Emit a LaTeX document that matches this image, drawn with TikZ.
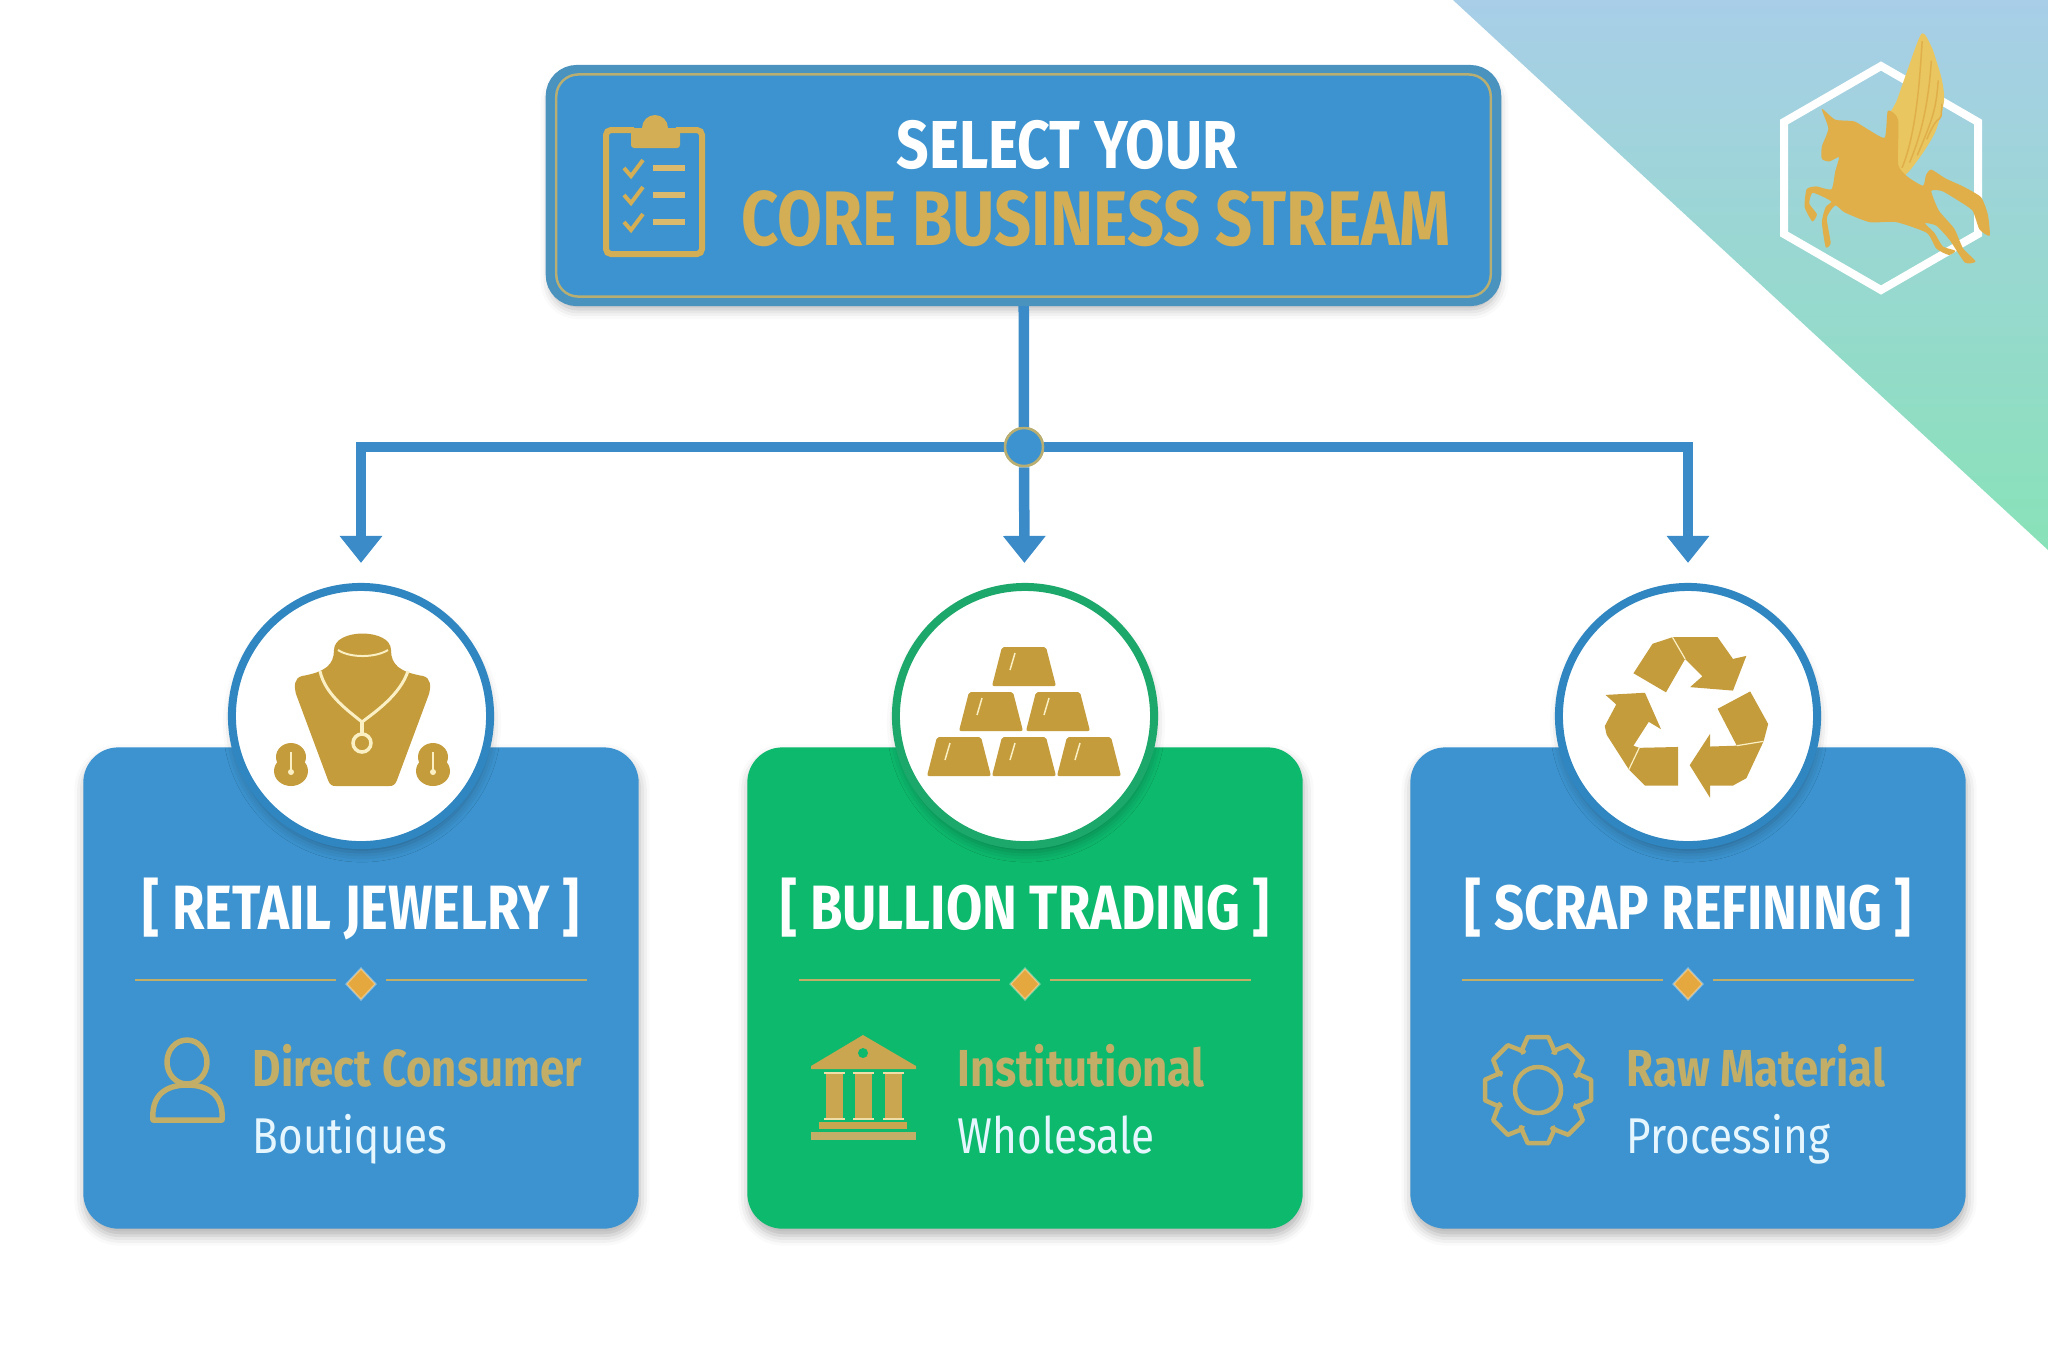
\documentclass[tikz,border=0pt]{standalone}
\usepackage{fontspec}
\setmainfont{Fira Sans}[FakeStretch=0.84]
\usetikzlibrary{arrows.meta,shapes.geometric,shadows.blur}
\definecolor{cardblue}{HTML}{3C93CF}
\definecolor{cardgreen}{HTML}{0DB96D}
\definecolor{ringblue}{HTML}{2F86C0}
\definecolor{ringgreen}{HTML}{1DA86B}
\definecolor{linkblue}{HTML}{3A8BC8}
\definecolor{edgeblue}{HTML}{4A93BE}
\definecolor{gold}{HTML}{C49C3C}
\definecolor{paleline}{HTML}{B9AE72}
\definecolor{goldtext}{HTML}{D4AE55}
\definecolor{softgold}{HTML}{C2AE66}
\definecolor{cream}{HTML}{FBEFC4}
\definecolor{horse}{HTML}{E0AF4A}
\definecolor{wing}{HTML}{E9C660}
\definecolor{subtext}{HTML}{E6F6FF}
\definecolor{skytop}{HTML}{A8CEE8}
\definecolor{skybottom}{HTML}{88E2B8}
\begin{document}
\begin{tikzpicture}[x=0.01cm,y=-0.01cm,
    softshadow/.style={blur shadow={shadow xshift=0.01cm,shadow yshift=-0.07cm,shadow blur radius=0.1cm,shadow opacity=30}},
    titlebox/.style={rectangle,rounded corners=0.27cm,draw=edgeblue,fill=cardblue,line width=0.08cm,
      minimum width=9.47cm,minimum height=2.33cm,softshadow},
    titlein/.style={rectangle,rounded corners=0.22cm,draw=paleline,line width=0.025cm,
      minimum width=9.34cm,minimum height=2.22cm},
    link/.style={draw=linkblue,line width=0.105cm},
    linkarrow/.style={link,shorten >=0.2cm,-{Triangle[length=0.27cm,width=0.41cm]}},
    hubdot/.style={circle,fill=cardblue,draw=paleline,line width=0.025cm,minimum size=0.38cm,inner sep=0pt},
    card/.style={rectangle,rounded corners=0.35cm,minimum width=5.55cm,minimum height=4.81cm,softshadow},
    ring/.style={circle,fill=white,line width=0.08cm,minimum size=2.58cm,inner sep=0pt,softshadow},
    gem/.style={diamond,fill=horse!85!orange,draw=white,draw opacity=0.35,line width=0.02cm,minimum width=0.3cm,minimum height=0.32cm,inner sep=0pt},
    rule/.style={softgold,line width=0.025cm},
    head/.style={white,anchor=base,font=\fontsize{17.8}{20}\selectfont\bfseries},
    kind/.style={softgold,anchor=base west,inner sep=0pt,font=\fontsize{14.8}{17}\selectfont\bfseries},
    what/.style={subtext,anchor=base west,inner sep=0pt,font=\fontsize{14.3}{16}\selectfont},
    iconline/.style={draw=softgold,line width=0.055cm,line join=round}]
  \useasboundingbox (0,0) rectangle (2048,1365);
  % corner and logo
  \shade[top color=skytop,bottom color=skybottom] (1453,0) -- (2048,0) -- (2048,550) -- cycle;
  \draw[white,line width=0.08cm,line join=miter]
    (1881,66) -- (1978,122) -- (1978,234) -- (1881,290) -- (1784,234) -- (1784,122) -- cycle;
  \begin{scope}[shift={(1450,0)},xscale=0.3814,yscale=0.3571]
    \fill[wing] plot[smooth cycle,tension=0.45] coordinates {(1150,385) (1148,330) (1170,285) (1195,210)
      (1236,95) (1262,130) (1275,170) (1290,225) (1295,285) (1272,370) (1232,440) (1190,492) (1170,450)};
    \foreach \a/\b/\c/\d in {1185/470/1238/115,1205/455/1262/170,1225/435/1280/225,1250/390/1290/290} {
      \draw[horse,line width=0.015cm] (\a,\b) .. controls (\a+40,\b-100) and (\c-5,\d+80) .. (\c,\d);
    }
    \fill[horse] plot[smooth cycle,tension=0.35] coordinates {(975,305) (1010,335) (1060,340) (1100,365) (1140,385)
      (1148,310) (1175,335) (1175,460) (1200,495) (1240,520) (1248,490) (1262,475) (1300,500) (1345,522) (1392,552) (1410,600) (1415,660)
      (1388,642) (1370,590) (1330,560) (1290,535) (1262,535) (1282,590) (1322,640) (1345,695) (1378,732) (1350,735)
      (1310,672) (1275,632) (1245,625) (1270,652) (1292,690) (1325,702) (1308,714) (1275,696) (1250,652) (1170,622)
      (1100,622) (1035,595) (1010,575) (988,610) (998,680) (985,692) (975,622) (985,580) (1000,565) (980,552)
      (950,540) (942,570) (962,600) (950,620) (930,580) (935,530) (960,522) (1000,530) (1010,480) (1020,440)
      (995,452) (975,445) (975,410) (992,360)};
  \end{scope}
  % connectors
  \node[hubdot] (hub) at (1024,447) {};
  \foreach \n/\cx/\fillc/\ringc/\txt/\kindtxt/\whattxt/\tx in {
      a/361/cardblue/ringblue/RETAIL JEWELRY/Direct Consumer/Boutiques/252,
      b/1025/cardgreen/ringgreen/BULLION TRADING/Institutional/Wholesale/957,
      c/1688/cardblue/ringblue/SCRAP REFINING/Raw Material/Processing/1626} {
    \node[card,fill=\fillc] (card\n) at (\cx,988) {};
    \node[ring,draw=\ringc] (ring\n) at (\cx,716) {};
    \node[head] (head\n) at (\cx,929) {[ \txt\ ]};
    \node[gem] (gem\n) at (\cx,984) {};
    \draw[rule] (\cx-25,980) -- (\cx-226,980);
    \draw[rule] (\cx+25,980) -- (\cx+226,980);
    \node[kind] (kind\n) at (\tx,1086) {\kindtxt};
    \node[what] (what\n) at (\tx,1153) {\whattxt};
  }
  \node[titlebox] (title) at (1023.5,185.5) {};
  \node[titlein] (inner) at (title.center) {};
  \draw[link] (title) -- (hub);
  \draw[linkarrow] (hub) -| (ringa);
  \draw[linkarrow] (hub) -- (ringb);
  \draw[linkarrow] (hub) -| (ringc);
  \node[hubdot] (hubtop) at (hub) {};
  \node[white,anchor=base,font=\fontsize{19.3}{22}\selectfont\bfseries] (top) at (1067,168) {SELECT YOUR};
  \node[goldtext,anchor=base,font=\fontsize{22}{25}\selectfont\bfseries] (core) at (1096,245) {CORE BUSINESS STREAM};
  % clipboard
  \draw[goldtext,line width=0.06cm,rounded corners=0.05cm] (634,130) -- (606,130) -- (606,254) -- (702,254) -- (702,130) -- (676,130);
  \fill[goldtext,rounded corners=0.03cm] (631,148) rectangle (680,128);
  \fill[goldtext] (655,128) circle (13);
  \foreach \y in {168,195,222} {
    \draw[goldtext,line width=0.04cm] (624,\y) -- (631,\y+8) -- (643,\y-8);
    \draw[goldtext!85!white,line width=0.055cm] (653,\y) -- (685,\y);
  }
  % necklace icon
  \fill[gold] (334,650) .. controls (334,628) and (391,628) .. (391,650) .. controls (391,665) and (400,672) .. (423,676)
    .. controls (431,678) and (431,686) .. (429,694) -- (397,780) .. controls (395,785) and (393,786) .. (389,786) -- (336,786)
    .. controls (332,786) and (330,785) .. (328,780) -- (296,694) .. controls (294,686) and (294,678) .. (302,676)
    .. controls (325,672) and (334,665) .. (334,650) -- cycle;
  \draw[cream,line width=0.02cm] (338,650) .. controls (350,658) and (375,658) .. (388,650);
  \draw[cream,line width=0.03cm] (320,671) .. controls (325,695) and (350,712) .. (362,722) .. controls (375,712) and (400,695) .. (408,671);
  \draw[cream,line width=0.035cm] (362,743) circle (9);
  \draw[cream,line width=0.035cm] (362,722) -- (362,734);
  \foreach \ex in {291,433} {
    \fill[gold] (\ex,757) ellipse (15 and 14);
    \fill[gold] (\ex,771) ellipse (17 and 15);
    \draw[cream,line width=0.02cm] (\ex,752) -- (\ex,770);
    \fill[cream] (\ex,772) circle (3);
  }
  % bullion icon
  \foreach \bx/\by in {1024/686,991/731,1058/731,959/776,1024/776,1089/776} {
    \fill[gold,rounded corners=0.02cm] (\bx-32,\by) -- (\bx-22,\by-39) -- (\bx+22,\by-39) -- (\bx+32,\by) -- cycle;
    \draw[cream,line width=0.015cm] (\bx-14,\by-16) -- (\bx-9,\by-33);
  }
  % recycle icon
  \begin{scope}[shift={(1400,570)},xscale=0.3827,yscale=0.4337]
    \fill[gold] (610,238) -- (660,170) -- (712,155) -- (745,205) -- (695,282) -- cycle;
    \fill[gold] (712,155) -- (830,155) -- (870,205) -- (905,198) -- (870,278) -- (758,270) -- (790,245) -- (745,205) -- cycle;
    \fill[gold] (830,320) -- (915,280) -- (962,355) -- (950,395) -- (880,405) -- cycle;
    \fill[gold] (950,395) -- (905,480) -- (870,497) -- (810,497) -- (810,525) -- (757,450) -- (810,378) -- (810,407) -- (880,405) -- cycle;
    \fill[gold] (727,408) -- (727,497) -- (640,497) -- (598,460) -- (625,410) -- cycle;
    \fill[gold] (598,460) -- (540,380) -- (535,360) -- (565,310) -- (537,288) -- (640,283) -- (682,367) -- (650,350) -- (610,405) -- (625,410) -- cycle;
    \draw[cream,line width=0.012cm] (712,155) -- (745,205);
    \draw[cream,line width=0.012cm] (880,405) -- (950,395);
    \draw[cream,line width=0.012cm] (625,410) -- (598,460);
  \end{scope}
  % small icons
  \draw[iconline] (187,1062) ellipse (20 and 22);
  \draw[iconline] (153,1120) -- (222,1120) .. controls (224,1095) and (208,1085) .. (187,1085) .. controls (166,1085) and (151,1095) .. (153,1120) -- cycle;
  \fill[gold!90!white] (863,1035) -- (916,1066) -- (916,1069) -- (811,1069) -- (811,1066) -- cycle;
  \fill[cardgreen] (863,1053) circle (5);
  \foreach \px in {826,855,885} {
    \fill[gold!90!white] (\px,1074) rectangle (\px+17,1118);
    \draw[cream!80!gold,line width=0.015cm] (\px-2,1073) -- (\px+19,1073);
    \draw[cream!80!gold,line width=0.015cm] (\px-2,1119) -- (\px+19,1119);
  }
  \fill[gold!90!white] (819,1122) rectangle (907,1129);
  \fill[softgold] (811,1132) rectangle (916,1140);
  \begin{scope}[shift={(1538,1090)}]
    \draw[iconline,line width=0.045cm] (0,0) circle (23);
    \foreach \a in {0,45,...,315} {
      \draw[iconline,line width=0.045cm] (\a-25:41) -- (\a-11:54) -- (\a+11:54) -- (\a+25:41) -- (\a+20:41);
    }
  \end{scope}
\end{tikzpicture}
\end{document}
